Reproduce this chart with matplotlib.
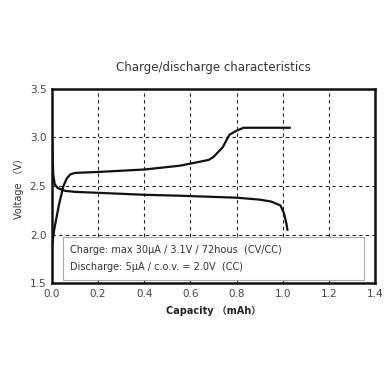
"""Charge/discharge characteristics chart."""

import matplotlib

matplotlib.use("Agg")
import matplotlib.pyplot as plt

# Charge curve (capacity mAh, voltage V)
charge_cap = [0.0, 0.01, 0.03, 0.05, 0.065, 0.08, 0.1, 0.2, 0.4, 0.556, 0.64, 0.68, 0.70, 0.72, 0.74, 0.76, 0.77, 0.80, 0.83, 0.9, 1.03]
charge_v = [1.87, 2.05, 2.30, 2.50, 2.58, 2.62, 2.635, 2.645, 2.67, 2.71, 2.75, 2.77, 2.80, 2.85, 2.90, 2.99, 3.03, 3.07, 3.10, 3.10, 3.10]

# Discharge curve
dis_cap = [0.0, 0.003, 0.006, 0.012, 0.025, 0.057, 0.1, 0.2, 0.4, 0.556, 0.8, 0.9, 0.95, 0.99, 1.005, 1.015, 1.02]
dis_v = [3.08, 2.85, 2.62, 2.52, 2.48, 2.45, 2.44, 2.43, 2.41, 2.40, 2.38, 2.36, 2.34, 2.30, 2.22, 2.12, 2.05]

x_ticks = [0.0, 0.2, 0.4, 0.6, 0.8, 1.0, 1.2, 1.4]
y_ticks = [1.5, 2.0, 2.5, 3.0, 3.5]

note_lines = [
    "Charge: max 30μA / 3.1V / 72hous  (CV/CC)",
    "Discharge: 5μA / c.o.v. = 2.0V  (CC)",
]

FAMILY = ["DejaVu Sans", "Noto Sans CJK JP"]
plt.rcParams["font.family"] = FAMILY

fig = plt.figure(figsize=(3.9, 3.9), dpi=100)
ax = fig.add_axes([0.133, 0.274, 0.829, 0.498])

ax.plot(charge_cap, charge_v, color="#111111", linewidth=1.6, zorder=3)
ax.plot(dis_cap, dis_v, color="#111111", linewidth=1.6, zorder=3)

ax.set_xlim(0, 1.4)
ax.set_ylim(1.5, 3.5)
ax.set_xticks(x_ticks)
ax.set_yticks(y_ticks)
ax.set_xticklabels([f"{v:.1f}" for v in x_ticks])
ax.set_yticklabels([f"{v:.1f}" for v in y_ticks])
ax.tick_params(length=0, labelsize=7.5, labelcolor="#444444", pad=4)

ax.grid(True, color="#222222", linestyle=(0, (3, 3)), linewidth=0.8)
for spine in ax.spines.values():
    spine.set_linewidth(1.8)
    spine.set_color("#111111")

# Note box
box = plt.Rectangle((0.05, 1.53), 1.30, 0.45, facecolor="white", edgecolor="#aaaaaa",
                    linewidth=0.8, zorder=4)
ax.add_patch(box)
ax.text(0.08, 1.84, note_lines[0], fontsize=7, color="#333333", va="center", zorder=5)
ax.text(0.08, 1.67, note_lines[1], fontsize=7, color="#333333", va="center", zorder=5)

ax.set_title("Charge/discharge characteristics", fontsize=8.5, color="#333333", pad=13)
ax.set_xlabel("Capacity （mAh）", fontsize=7, color="#222222", fontweight="bold", labelpad=5)
ax.set_ylabel("Voltage （V）", fontsize=7, color="#333333", labelpad=4)

fig.savefig("out.png", dpi=100, facecolor="white")
